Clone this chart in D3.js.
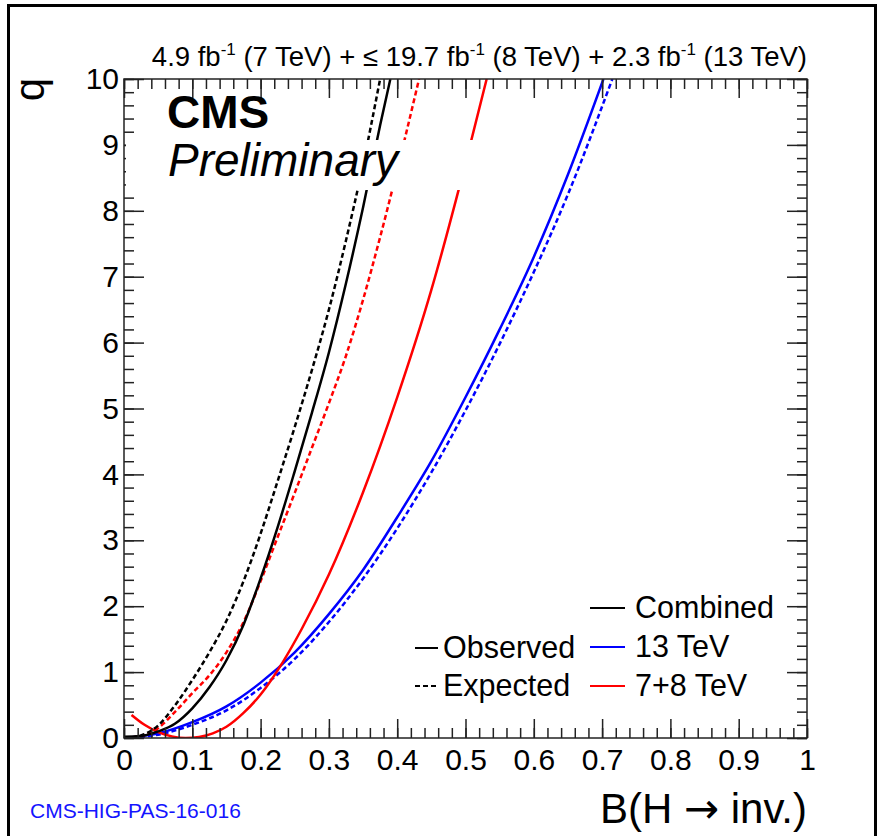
<!DOCTYPE html>
<html>
<head>
<meta charset="utf-8">
<script src="https://cdn.jsdelivr.net/npm/d3@7"></script>
<style>
  body { margin: 0; background: #fff; }
  text { font-family: "Liberation Sans", Arial, sans-serif; fill: #000; }
</style>
</head>
<body>
<div id="chart"></div>
<script>
const width = 881;
const height = 836;

// curves: [B(H->inv), q]
const combinedObs = [[0,0.02],[0.025,0.03],[0.05,0.1],[0.075,0.22],[0.1,0.45],[0.125,0.77],[0.15,1.18],[0.175,1.72],[0.2,2.42],[0.225,3.2],[0.25,4.05],[0.275,4.93],[0.3,5.85],[0.325,6.9],[0.35,8.05],[0.375,9.3],[0.39,10]];
const combinedExp = [[0,0],[0.025,0.04],[0.05,0.19],[0.075,0.5],[0.1,0.88],[0.125,1.3],[0.15,1.78],[0.175,2.38],[0.2,3.1],[0.225,3.9],[0.25,4.72],[0.275,5.58],[0.3,6.5],[0.325,7.55],[0.35,8.7],[0.375,10]];
const obs13 = [[0,0],[0.05,0.07],[0.1,0.24],[0.15,0.48],[0.2,0.84],[0.25,1.3],[0.3,1.88],[0.35,2.55],[0.4,3.35],[0.45,4.2],[0.5,5.17],[0.55,6.2],[0.6,7.3],[0.65,8.55],[0.702,10]];
const exp13 = [[0,0],[0.05,0.05],[0.1,0.2],[0.15,0.42],[0.2,0.76],[0.25,1.2],[0.3,1.76],[0.35,2.42],[0.4,3.18],[0.45,4.03],[0.5,4.97],[0.55,5.98],[0.6,7.07],[0.65,8.25],[0.715,10]];
const obs78 = [[0.011,0.35],[0.03,0.2],[0.05,0.09],[0.07,0.025],[0.09,0],[0.11,0.015],[0.13,0.07],[0.15,0.17],[0.175,0.38],[0.2,0.66],[0.233,1.16],[0.26,1.65],[0.3,2.48],[0.35,3.73],[0.4,5.17],[0.45,6.8],[0.5,8.72],[0.531,10]];
const exp78 = [[0,0],[0.025,0.03],[0.05,0.15],[0.075,0.4],[0.1,0.68],[0.125,0.95],[0.15,1.3],[0.175,1.76],[0.2,2.38],[0.225,3.05],[0.25,3.72],[0.275,4.4],[0.3,5.08],[0.325,5.8],[0.35,6.65],[0.375,7.6],[0.4,8.62],[0.432,10]];

const seriesNames = ["Combined", "13 TeV", "7+8 TeV"];
const seriesColors = ["#000000", "#0000ff", "#ff0000"];

const svg = d3.select("#chart")
  .append("svg")
  .attr("width", width)
  .attr("height", height);

// outer frame of the canvas
svg.append("rect")
  .attr("x", 8.5).attr("y", 5.5)
  .attr("width", 867).attr("height", 860)
  .attr("fill", "none")
  .attr("stroke", "#000")
  .attr("stroke-width", 3);

const x = d3.scaleLinear().domain([0, 1]).range([124, 807]);
const y = d3.scaleLinear().domain([0, 10]).range([738, 79]);

svg.append("clipPath").attr("id", "plot")
  .append("rect")
  .attr("x", 124).attr("y", 79)
  .attr("width", 683).attr("height", 659);

const line = d3.line()
  .x(d => x(d[0]))
  .y(d => y(d[1]))
  .curve(d3.curveMonotoneX);

const curves = [
  { data: exp13, color: seriesColors[1], dash: "5,3" },
  { data: obs13, color: seriesColors[1], dash: null },
  { data: exp78, color: seriesColors[2], dash: "5,3" },
  { data: obs78, color: seriesColors[2], dash: null },
  { data: combinedExp, color: seriesColors[0], dash: "5,3" },
  { data: combinedObs, color: seriesColors[0], dash: null }
];

const g = svg.append("g").attr("clip-path", "url(#plot)");
g.selectAll("path")
  .data(curves)
  .enter()
  .append("path")
  .attr("d", d => line(d.data))
  .attr("fill", "none")
  .attr("stroke", d => d.color)
  .attr("stroke-width", 2.5)
  .attr("stroke-dasharray", d => d.dash);

// axes, ROOT style: ticks inside on all four sides
const fmt = d3.format("~g");
const minorX = d3.range(0, 51).map(i => i / 50);
const minorY = d3.range(0, 51).map(i => i / 5);

function styleAxis(sel) {
  sel.selectAll("line").attr("stroke", "#222").attr("stroke-width", 1.5);
  sel.select(".domain").remove();
  sel.selectAll("text")
    .attr("fill", "#000")
    .style("font-family", "'Liberation Sans', Arial, sans-serif")
    .style("font-size", "30px");
}

svg.append("g").attr("transform", "translate(0,738)")
  .call(d3.axisBottom(x).tickValues(minorX).tickFormat("").tickSizeInner(-10).tickSizeOuter(0))
  .call(styleAxis);
svg.append("g").attr("transform", "translate(0,738)")
  .call(d3.axisBottom(x).ticks(10).tickFormat(fmt).tickSizeInner(-19).tickSizeOuter(0).tickPadding(11))
  .call(styleAxis);
svg.append("g").attr("transform", "translate(0,79)")
  .call(d3.axisTop(x).tickValues(minorX).tickFormat("").tickSizeInner(-10).tickSizeOuter(0))
  .call(styleAxis);
svg.append("g").attr("transform", "translate(0,79)")
  .call(d3.axisTop(x).ticks(10).tickFormat("").tickSizeInner(-19).tickSizeOuter(0))
  .call(styleAxis);

svg.append("g").attr("transform", "translate(124,0)")
  .call(d3.axisLeft(y).tickValues(minorY).tickFormat("").tickSizeInner(-10).tickSizeOuter(0))
  .call(styleAxis);
svg.append("g").attr("transform", "translate(124,0)")
  .call(d3.axisLeft(y).ticks(10).tickFormat(fmt).tickSizeInner(-20).tickSizeOuter(0).tickPadding(5))
  .call(styleAxis);
svg.append("g").attr("transform", "translate(807,0)")
  .call(d3.axisRight(y).tickValues(minorY).tickFormat("").tickSizeInner(-10).tickSizeOuter(0))
  .call(styleAxis);
svg.append("g").attr("transform", "translate(807,0)")
  .call(d3.axisRight(y).ticks(10).tickFormat("").tickSizeInner(-20).tickSizeOuter(0))
  .call(styleAxis);

// plot frame
svg.append("rect")
  .attr("x", 124).attr("y", 79)
  .attr("width", 683).attr("height", 659)
  .attr("fill", "none")
  .attr("stroke", "#222")
  .attr("stroke-width", 1.5);

// CMS / Preliminary labels (the Preliminary box hides the curves behind it)
svg.append("rect")
  .attr("x", 126).attr("y", 140)
  .attr("width", 390).attr("height", 50)
  .attr("fill", "#fff");

svg.append("text")
  .attr("x", 167).attr("y", 128)
  .style("font-size", "46px")
  .style("font-weight", "bold")
  .text("CMS");

svg.append("text")
  .attr("x", 168).attr("y", 176)
  .style("font-size", "46px")
  .style("font-style", "italic")
  .text("Preliminary");

// luminosity title
const title = svg.append("text")
  .attr("x", 807).attr("y", 66)
  .attr("text-anchor", "end")
  .style("font-size", "27.5px");
const titleParts = [
  ["4.9 fb", false], ["-1", true], [" (7 TeV) + \u2264 19.7 fb", false], ["-1", true],
  [" (8 TeV) + 2.3 fb", false], ["-1", true], [" (13 TeV)", false]
];
titleParts.forEach(([t, sup], i) => {
  const prevSup = i > 0 && titleParts[i - 1][1];
  title.append("tspan")
    .attr("dy", sup ? -11 : (prevSup ? 11 : 0))
    .style("font-size", sup ? "17px" : null)
    .text(t);
});

// axis titles
const xTitle = svg.append("text")
  .attr("x", 807).attr("y", 823)
  .attr("text-anchor", "end")
  .style("font-size", "42px");
xTitle.append("tspan").text("B(H ");
xTitle.append("tspan").style("font-family", "'DejaVu Sans'").text("\u2192");
xTitle.append("tspan").text(" inv.)");

svg.append("text")
  .attr("transform", "translate(44,78) rotate(-90)")
  .attr("text-anchor", "end")
  .style("font-size", "42px")
  .text("q");

svg.append("text")
  .attr("x", 30).attr("y", 818)
  .style("font-size", "21px")
  .style("fill", "#1414ff")
  .text("CMS-HIG-PAS-16-016");

// legend: line style column
const styleItems = [{ name: "Observed", dash: null }, { name: "Expected", dash: "5,3" }];
const styleRow = svg.append("g").selectAll("g")
  .data(styleItems)
  .enter()
  .append("g")
  .attr("transform", (d, i) => `translate(415,${648 + i * 38})`);
styleRow.append("line")
  .attr("x1", 0).attr("x2", 23)
  .attr("stroke", "#000")
  .attr("stroke-width", 2)
  .attr("stroke-dasharray", d => d.dash);
styleRow.append("text")
  .attr("x", 28).attr("y", 10)
  .style("font-size", "30.5px")
  .text(d => d.name);

// legend: colour column
const colorRow = svg.append("g").selectAll("g")
  .data(seriesNames)
  .enter()
  .append("g")
  .attr("transform", (d, i) => `translate(590,${608 + i * 39})`);
colorRow.append("line")
  .attr("x1", 0).attr("x2", 35)
  .attr("stroke", (d, i) => seriesColors[i])
  .attr("stroke-width", 2);
colorRow.append("text")
  .attr("x", 45).attr("y", 10)
  .style("font-size", "30.5px")
  .text(d => d);
</script>
</body>
</html>
